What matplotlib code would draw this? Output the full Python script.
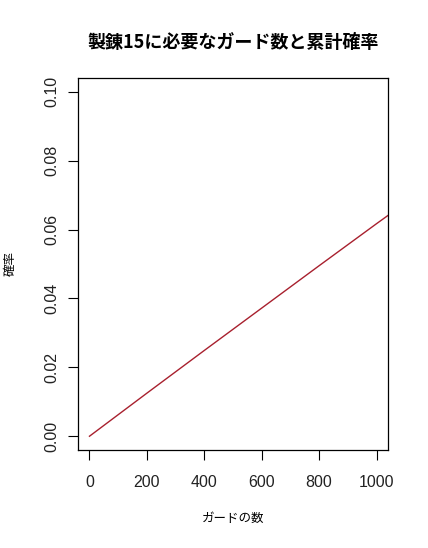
import matplotlib
matplotlib.use('Agg')
from matplotlib import pyplot as plt

# data (cumulative probability vs number of guards)
guards = [0, 200, 400, 600, 800, 1000, 1100]
prob = [0.0, 0.0125, 0.0249, 0.0372, 0.0495, 0.0617, 0.0677]

x_ticks = [0, 200, 400, 600, 800, 1000]
y_ticks = [0.00, 0.02, 0.04, 0.06, 0.08, 0.10]
y_tick_labels = ['0.00', '0.02', '0.04', '0.06', '0.08', '0.10']

title = '製錬15に必要なガード数と累計確率'
xlabel = 'ガードの数'
ylabel = '確率'

plt.rcParams['font.family'] = ['Liberation Sans', 'DejaVu Sans']
cjk = ['Noto Sans CJK JP', 'DejaVu Sans']

fig = plt.figure(figsize=(4.28, 5.48), dpi=100)
ax = fig.add_axes([78/428, 1 - 450/548, (388 - 78)/428, (450 - 78)/548])

ax.plot(guards, prob, color='#a8202e', lw=1.0)

# R style: 4% padding around the data range
ax.set_xlim(-40, 1040)
ax.set_ylim(-0.004, 0.104)

ax.set_xticks(x_ticks)
ax.set_xticklabels([str(v) for v in x_ticks], fontsize=11.5, color='#222222')
ax.set_yticks(y_ticks)
ax.set_yticklabels(y_tick_labels, fontsize=11.5, rotation=90, va='center', color='#222222')
ax.tick_params(direction='out', length=7.2, width=0.8, pad=6)
ax.tick_params(axis='x', pad=11)

for s in ax.spines.values():
    s.set_linewidth(0.9)

fig.text(233/428, 1 - 42/548, title, family=cjk, fontsize=13, fontweight='bold',
         ha='center', va='center')
fig.text(233/428, 1 - 518/548, xlabel, family=cjk, fontsize=9, ha='center', va='center')
fig.text(10/428, 1 - 263/548, ylabel, family=cjk, fontsize=9, ha='center', va='center',
         rotation=90)

fig.savefig('out.png', dpi=100)
